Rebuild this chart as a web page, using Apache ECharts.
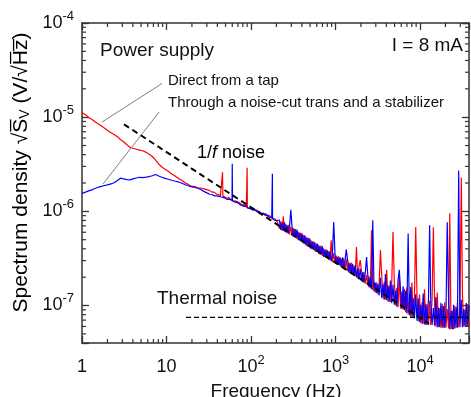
<!DOCTYPE html>
<html>
<head>
<meta charset="utf-8">
<script src="https://cdn.jsdelivr.net/npm/echarts@6/dist/echarts.min.js"></script>
<style>
  html, body { margin: 0; padding: 0; background: #fff; }
  #chart { width: 471px; height: 397px; }
</style>
</head>
<body>
<div id="chart"></div>
<script>
// frequency points (Hz)
const freq = [
  1, 1.1, 1.2, 1.3, 1.4, 1.5, 1.65, 1.8, 2, 2.2,
  2.4, 2.6, 2.85, 3.1, 3.4, 3.7, 4, 4.4, 4.8, 5.2,
  5.7, 6.2, 6.8, 7.4, 8.1, 8.8, 9.6, 10.5, 11.5, 12.5,
  13.7, 15, 16.4, 18, 19.6, 21.5, 23.5, 25.7, 28, 30.5,
  32.5, 34.5, 36.5, 39, 41, 43.5, 45.5, 46, 46.5, 49,
  52, 55, 58, 59.6, 60, 60.4, 62, 66, 70, 74,
  78, 83, 88, 89.5, 90, 90.5, 93, 99, 105, 111,
  118, 125, 132, 140, 148, 157, 166, 176, 178, 179,
  180, 182, 193, 205,
  217, 225, 233, 241, 249, 258, 267, 276, 286, 296,
  306, 317, 328, 339, 351, 364, 376, 390, 403, 417,
  432, 447, 463, 479, 496, 513, 531, 550, 569, 589,
  609, 631, 653, 675, 699, 724, 749, 775, 802, 830,
  859, 889, 920, 953, 986, 1020, 1060, 1090, 1130, 1170,
  1210, 1250, 1300, 1340, 1390, 1440, 1490, 1540, 1590, 1650,
  1710, 1770, 1830, 1890, 1960, 2030, 2100, 2170, 2250, 2330,
  2410, 2490, 2580, 2670, 2760, 2860, 2960, 3060, 3170, 3280,
  3400, 3520, 3640, 3770, 3900, 4030, 4180, 4320, 4470, 4630,
  4790, 4960, 5130, 5310, 5500, 5690, 5890, 6090, 6310, 6530,
  6760, 6990, 7240, 7490, 7750, 8020, 8300, 8590, 8900, 9210,
  9530, 9860, 10200, 10600, 10900, 11300, 11700, 12100, 12600, 13000,
  13400, 13900, 14400, 14900, 15400, 16000, 16500, 17100, 17700, 18300,
  19000, 19600, 20300, 21000, 21800, 22500, 23300, 24200, 25000, 25900,
  26800, 27700, 28700, 29700, 30800, 31800, 32900, 34100, 35300, 36500,
  38000
];

// "Direct from a tap" (nV/√Hz)
const tapNoise = [
  11200, 10600, 9950, 9500, 9050, 8650, 8200, 7750, 7250, 6850,
  6550, 6250, 5800, 5480, 5100, 4800, 4680, 4560, 4470, 4400,
  4250, 4060, 3820, 3530, 3180, 2960, 2800, 2660, 2490, 2390,
  2250, 2150, 2020, 1940, 1850, 1830, 1780, 1770, 1730, 1690,
  1660, 1600, 1600, 1530, 1540, 1470, 1490, 2600, 1450, 1440,
  1380, 1400, 1320, 1350, 1300, 1330, 1280, 1290, 1220, 1230,
  1170, 1180, 1110, 1140, 2900, 1100, 1120, 1060, 1080, 1020,
  1030, 970, 985, 930, 950, 885, 900, 845, 870, 850,
  860, 830, 830, 770,
  654, 785, 623, 885, 607, 732, 592, 718, 565, 683,
  553, 665, 528, 654, 506, 607, 491, 595, 467, 559,
  449, 540, 425, 524, 408, 491, 397, 481, 378, 455,
  368, 441, 348, 432, 336, 403, 327, 396, 312, 376,
  303, 493, 290, 360, 281, 338, 273, 333, 262, 315,
  251, 318, 238, 310, 231, 288, 221, 285, 215, 265,
  205, 419, 194, 252, 303, 232, 177, 227, 171, 211,
  163, 204, 153, 630, 146, 180, 138, 176, 132, 164,
  389, 213, 119, 178, 116, 239, 110, 161, 109, 175,
  604, 182, 100, 153, 96, 207, 93, 140, 91, 151,
  85, 156, 81, 130, 76, 175, 74, 116, 683, 126,
  68, 131, 65, 109, 64, 149, 62, 103, 62, 112,
  62, 119, 678, 101, 60, 137, 59, 94, 58, 104,
  58, 108, 58, 92, 57, 953, 56, 88, 56, 99,
  58, 107, 59, 94, 2290, 130, 60, 91, 60, 104,
  60
];

// "Through a noise-cut trans and a stabilizer" (nV/√Hz)
const stabNoise = [
  1550, 1600, 1650, 1690, 1740, 1780, 1830, 1870, 1910, 1960,
  2010, 2110, 2250, 2210, 2170, 2160, 2210, 2260, 2300, 2280,
  2310, 2340, 2390, 2460, 2370, 2300, 2240, 2190, 2140, 2100,
  2060, 2000, 1930, 1870, 1830, 1790, 1760, 1700, 1620, 1560,
  1520, 1510, 1460, 1460, 1420, 1430, 1390, 1410, 1380, 1390,
  1340, 1350, 1290, 1310, 3200, 1300, 1300, 1240, 1260, 1180,
  1200, 1130, 1150, 1100, 1120, 1090, 1100, 1070, 1030, 1050,
  990, 1000, 945, 960, 900, 920, 860, 870, 840, 2500,
  835, 850, 800, 800,
  809, 634, 765, 621, 766, 597, 712, 581, 700, 1040,
  683, 537, 648, 524, 638, 495, 591, 481, 579, 456,
  556, 436, 522, 420, 515, 400, 477, 389, 469, 370,
  454, 356, 428, 346, 424, 328, 393, 320, 386, 306,
  375, 296, 356, 771, 354, 275, 328, 270, 325, 257,
  325, 244, 305, 394, 303, 225, 280, 219, 277, 207,
  267, 199, 249, 190, 246, 181, 225, 175, 221, 328,
  211, 157, 196, 149, 804, 141, 174, 136, 170, 128,
  197, 121, 168, 115, 216, 114, 164, 110, 184, 106,
  166, 102, 144, 98, 186, 240, 141, 92, 160, 89,
  143, 83, 581, 79, 157, 76, 119, 73, 132, 69,
  119, 67, 102, 64, 134, 63, 103, 62, 117, 711,
  108, 62, 94, 61, 123, 59, 95, 59, 107, 58,
  99, 58, 86, 766, 114, 56, 88, 56, 102, 57,
  96, 58, 2720, 59, 115, 59, 91, 60, 106, 61,
  100
];

// guide lines [Hz, nV/√Hz]
const oneOverFLine = [[3.14, 8400], [12800, 64]];
const thermalLine = [[17, 75], [38000, 75]];
const leaderTap = [[1.72, 8850], [8.85, 22800]];
const leaderStab = [[1.77, 1950], [8.15, 11300]];

// axes
const xMin = 1, xMax = 38000;
const yMin = 4e-8, yMax = 1e-4;
const xTickValues = [1, 10, 100, 1000, 10000];
const xTickLabels = ['1', '10', '10{s|2}', '10{s|3}', '10{s|4}'];
const yTickValues = [1e-7, 1e-6, 1e-5, 1e-4];
const yTickLabels = ['10{s|-7}', '10{s|-6}', '10{s|-5}', '10{s|-4}'];
const xMinorTicks = [2, 3, 4, 5, 6, 7, 8, 9, 20, 30, 40, 50, 60, 70, 80, 90,
  200, 300, 400, 500, 600, 700, 800, 900, 2000, 3000, 4000, 5000, 6000, 7000, 8000, 9000,
  20000, 30000];
const yMinorTicks = [5e-8, 6e-8, 7e-8, 8e-8, 9e-8,
  2e-7, 3e-7, 4e-7, 5e-7, 6e-7, 7e-7, 8e-7, 9e-7,
  2e-6, 3e-6, 4e-6, 5e-6, 6e-6, 7e-6, 8e-6, 9e-6,
  2e-5, 3e-5, 4e-5, 5e-5, 6e-5, 7e-5, 8e-5, 9e-5];

const FONT = '"Liberation Sans", Arial, sans-serif';
const AX = '#333';
const TXT = '#111';
const toV = nv => nv * 1e-9;
const pairs = (xs, ys) => xs.map((x, i) => [x, toV(ys[i])]);
const guide = pts => pts.map(p => [p[0], toV(p[1])]);

function tickFormatter(values, labels) {
  return function (v) {
    for (let i = 0; i < values.length; i++) {
      if (Math.abs(Math.log10(v) - Math.log10(values[i])) < 0.01) return labels[i];
    }
    return '';
  };
}

const labelRich = {
  s: { fontSize: 13, lineHeight: 13, fontFamily: FONT, color: TXT, padding: [0, 0, 14, 0] }
};

function logAxis(extra) {
  return Object.assign({
    type: 'log', logBase: 10,
    axisLine: { show: true, onZero: false, lineStyle: { color: AX, width: 1.5 } },
    axisTick: { show: true, inside: true, length: 7, lineStyle: { color: AX, width: 1.3 } },
    splitLine: { show: false },
    minorTick: { show: false },
    minorSplitLine: { show: false }
  }, extra);
}

// log minor ticks (2..9 per decade) on all four sides
function minorTickSeries(values, isX) {
  return {
    type: 'custom',
    xAxisIndex: 0, yAxisIndex: 0,
    silent: true, clip: false, z: 5,
    data: values.map(v => isX ? [v, yMin] : [xMin, v]),
    renderItem: function (params, api) {
      const st = { stroke: AX, lineWidth: 1.2 };
      if (isX) {
        const f = api.value(0);
        const b = api.coord([f, yMin]);
        const t = api.coord([f, yMax]);
        return { type: 'group', children: [
          { type: 'line', shape: { x1: b[0], y1: b[1], x2: b[0], y2: b[1] - 4 }, style: st },
          { type: 'line', shape: { x1: t[0], y1: t[1], x2: t[0], y2: t[1] + 4 }, style: st }
        ] };
      }
      const s = api.value(1);
      const l = api.coord([xMin, s]);
      const r = api.coord([xMax, s]);
      return { type: 'group', children: [
        { type: 'line', shape: { x1: l[0], y1: l[1], x2: l[0] + 4, y2: l[1] }, style: st },
        { type: 'line', shape: { x1: r[0], y1: r[1], x2: r[0] - 4, y2: r[1] }, style: st }
      ] };
    }
  };
}

const chart = echarts.init(document.getElementById('chart'));
chart.setOption({
  animation: false,
  backgroundColor: '#fff',
  grid: { left: 82, right: 2, top: 23, bottom: 54, containLabel: false, outerBoundsMode: 'none' },
  xAxis: [
    logAxis({
      min: xMin, max: xMax, position: 'bottom',
      axisLabel: {
        show: true, margin: 11, fontSize: 18, lineHeight: 27, fontFamily: FONT, color: TXT,
        formatter: tickFormatter(xTickValues, xTickLabels), rich: labelRich
      }
    }),
    logAxis({ min: xMin, max: xMax, position: 'top', axisLabel: { show: false } })
  ],
  yAxis: [
    logAxis({
      min: yMin, max: yMax, position: 'left',
      axisLabel: {
        show: true, margin: 8, fontSize: 18, lineHeight: 27, fontFamily: FONT, color: TXT,
        formatter: tickFormatter(yTickValues, yTickLabels), rich: labelRich
      }
    }),
    logAxis({ min: yMin, max: yMax, position: 'right', axisLabel: { show: false } })
  ],
  series: [
    {
      name: 'Direct from a tap', type: 'line', data: pairs(freq, tapNoise),
      symbol: 'none', z: 2, lineStyle: { color: '#ff0000', width: 1.2 }
    },
    {
      name: 'Through a noise-cut trans and a stabilizer', type: 'line', data: pairs(freq, stabNoise),
      symbol: 'none', z: 3, lineStyle: { color: '#0000ff', width: 1.2 }
    },
    {
      type: 'line', data: guide(leaderTap), symbol: 'none', z: 4, silent: true,
      lineStyle: { color: '#808080', width: 1 }
    },
    {
      type: 'line', data: guide(leaderStab), symbol: 'none', z: 4, silent: true,
      lineStyle: { color: '#808080', width: 1 }
    },
    {
      type: 'line', data: guide(oneOverFLine), symbol: 'none', z: 6, silent: true,
      lineStyle: { color: '#000', width: 2, type: [6, 4] }
    },
    {
      type: 'line', data: guide(thermalLine), symbol: 'none', z: 6, silent: true,
      lineStyle: { color: '#000', width: 1.2, type: [5, 3] }
    },
    minorTickSeries(xMinorTicks, true),
    minorTickSeries(yMinorTicks, false)
  ],
  graphic: [
    { type: 'text', x: 100, y: 50.5, z: 10,
      style: { text: 'Power supply', font: '19px ' + FONT, fill: TXT, verticalAlign: 'middle' } },
    { type: 'text', x: 463, y: 45.5, z: 10,
      style: { text: 'I = 8 mA', font: '19px ' + FONT, fill: TXT, align: 'right', verticalAlign: 'middle' } },
    { type: 'text', x: 168, y: 80.5, z: 10,
      style: { text: 'Direct from a tap', font: '15px ' + FONT, fill: TXT, verticalAlign: 'middle' } },
    { type: 'text', x: 168, y: 102.8, z: 10,
      style: { text: 'Through a noise-cut trans and a stabilizer', font: '15px ' + FONT, fill: TXT, verticalAlign: 'middle' } },
    { type: 'text', x: 197, y: 152.6, z: 10,
      style: {
        text: '1/{i|f} noise', font: '18px ' + FONT, fill: '#000', verticalAlign: 'middle',
        rich: { i: { fontStyle: 'italic', fontSize: 18, fontFamily: FONT, color: '#000' } }
      } },
    { type: 'text', x: 157, y: 298.6, z: 10,
      style: { text: 'Thermal noise', font: '19px ' + FONT, fill: TXT, verticalAlign: 'middle' } },
    { type: 'text', x: 276, y: 392, z: 10,
      style: { text: 'Frequency (Hz)', font: '19px ' + FONT, fill: TXT, align: 'center', verticalAlign: 'middle' } },
    { type: 'text', x: 21, y: 172.5, rotation: Math.PI / 2, z: 10,
      style: {
        text: '{a|Spectrum density \u221A}{a|S\u0305}{b|V}{a| (V/\u221A}{a|H\u0305z\u0305}{a|)}',
        align: 'center', verticalAlign: 'middle',
        rich: {
          a: { fontSize: 21, fontFamily: FONT, color: TXT },
          b: { fontSize: 14, fontFamily: FONT, color: TXT, padding: [9, 0, 0, 0] }
        }
      } }
  ]
});
</script>
</body>
</html>
